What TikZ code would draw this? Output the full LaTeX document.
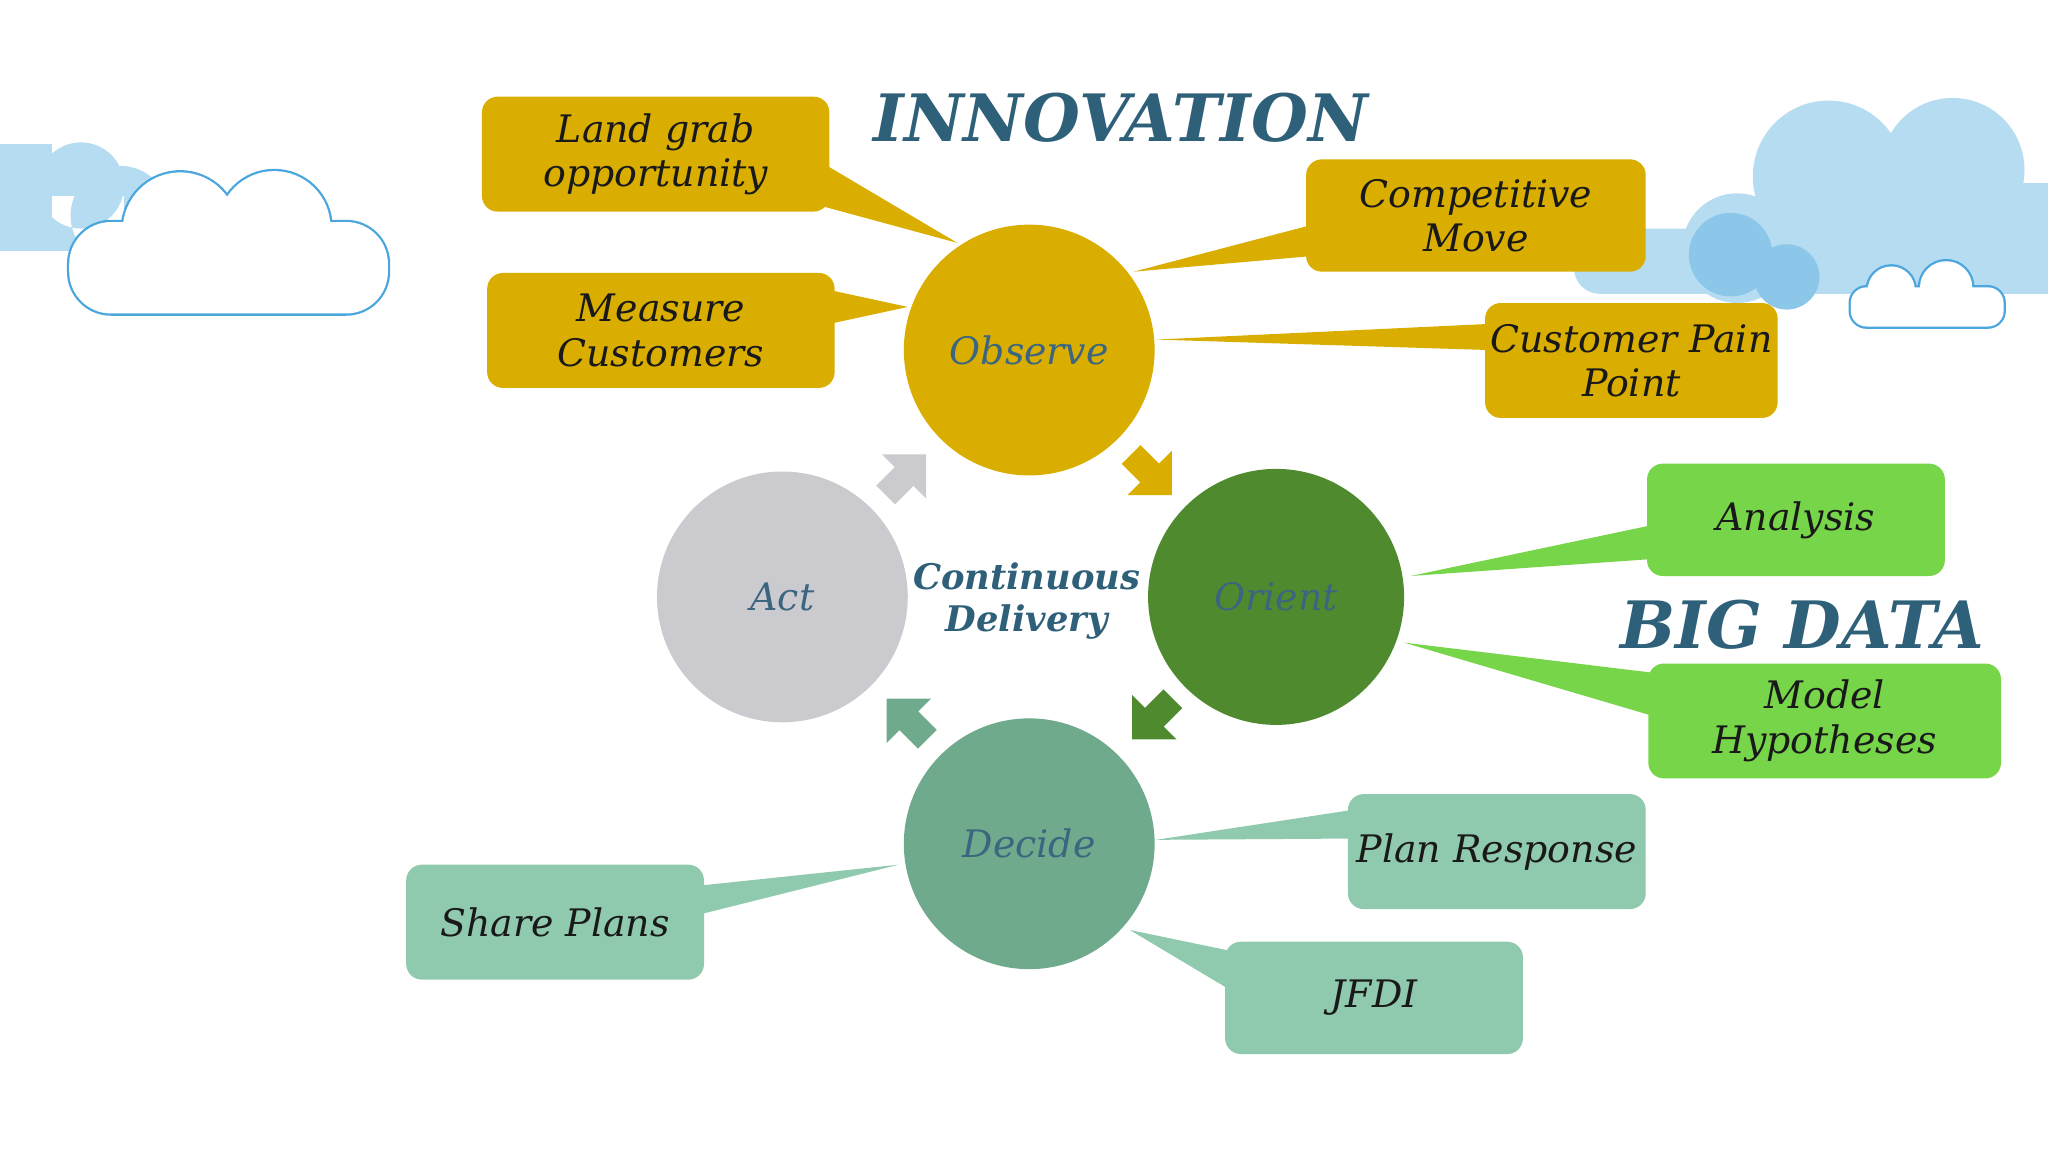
\documentclass[tikz,border=0pt]{standalone}
\usepackage{fontspec}
\setmainfont{DejaVu Serif}
\usetikzlibrary{shapes.arrows}
\definecolor{gold}{HTML}{D9AE00}
\definecolor{dgreen}{HTML}{508A2E}
\definecolor{teal}{HTML}{6FAA8C}
\definecolor{lgray}{HTML}{CBCBCF}
\definecolor{lgreen}{HTML}{77D549}
\definecolor{lteal}{HTML}{8FC9AE}
\definecolor{ttext}{HTML}{2E6079}
\definecolor{ctext}{HTML}{3C6680}
\definecolor{cloudA}{HTML}{B6DCF2}
\definecolor{cloudB}{HTML}{8CC7EA}
\definecolor{cloudL}{HTML}{4BA6DD}
\tikzset{
 circ/.style={circle,minimum size=96pt,inner sep=0,font=\fontsize{14.5}{17}\selectfont\itshape,text=ctext},
 box/.style={rounded corners=6pt,text=black!90,font=\fontsize{14.5}{17}\selectfont\itshape,align=center},
 blk/.style={single arrow,minimum height=22pt,minimum width=24pt,single arrow head extend=3pt,inner sep=2pt},
}
\begin{document}
\begin{tikzpicture}[x=0.5pt,y=-0.5pt]
\useasboundingbox (0,0) rectangle (1568,882);
% clouds
\fill[cloudA] (0,110) rectangle (40,192);
\fill[cloudA] (62,142) circle (33) (92,165) circle (38) (0,150) rectangle (95,192);
\fill[cloudA] (1400,135) circle (58) (1495,130) circle (55) (1330,190) circle (42);
\fill[cloudA,rounded corners=10pt] (1205,175) rectangle (1568,225);
\fill[cloudA] (1400,140) rectangle (1568,225);
\fill[cloudB] (1325,195) circle (32) (1368,212) circle (25);
% outline clouds
\foreach \s in {1,2}{
 \ifnum\s=1 \tikzset{cl/.style={draw=cloudL,line width=1.75pt,fill=none}}\else\tikzset{cl/.style={fill=white,draw=none}}\fi
 \path[cl,rounded corners=16pt] (53,170) rectangle (297,240);
 \path[cl] (138,176) circle (44) (210,174) circle (43);
 \path[cl,rounded corners=6pt] (1417,220) rectangle (1534,250);
 \path[cl] (1448,222) circle (18) (1490,220) circle (20);
}
% wedges
\fill[gold] (630,125)--(630,158)--(733,186)--cycle;
\fill[gold] (635,222)--(635,248)--(695,235)--cycle;
\fill[gold] (1005,172)--(1005,196)--(868,208)--cycle;
\fill[gold] (1140,248)--(1140,268)--(885,260)--cycle;
\fill[lgreen] (1265,402)--(1265,428)--(1080,441)--cycle;
\fill[lgreen] (1265,515)--(1265,548)--(1075,492)--cycle;
\fill[lteal] (1036,620)--(1036,642)--(885,643)--cycle;
\fill[lteal] (942,728)--(942,758)--(865,712)--cycle;
\fill[lteal] (536,678)--(536,700)--(688,662)--cycle;
% boxes
\node[box,fill=gold,minimum width=133pt,minimum height=44pt] (lg) at (502,118) {Land grab\\opportunity};
\node[box,fill=gold,minimum width=133pt,minimum height=44pt] (mc) at (506,253) {Measure\\Customers};
\node[box,fill=gold,minimum width=130pt,minimum height=43pt] (cm) at (1130,165) {Competitive\\Move};
\node[box,fill=gold,minimum width=112pt,minimum height=44pt,inner xsep=1pt] (cp) at (1249,276) {Customer Pain\\Point};
\node[box,fill=lgreen,minimum width=114pt,minimum height=43pt] (an) at (1375,398) {Analysis};
\node[box,fill=lgreen,minimum width=135pt,minimum height=44pt] (mh) at (1397,552) {Model\\Hypotheses};
\node[box,fill=lteal,minimum width=114pt,minimum height=44pt,inner xsep=1pt] (pr) at (1146,652) {Plan Response};
\node[box,fill=lteal,minimum width=114pt,minimum height=43pt] (jf) at (1052,764) {JFDI};
\node[box,fill=lteal,minimum width=114pt,minimum height=44pt] (sp) at (425,706) {Share Plans};
% circles
\node[circ,fill=gold] (ob) at (788,268) {Observe};
\node[circ,fill=dgreen,minimum size=98pt] (or) at (977,457) {Orient};
\node[circ,fill=teal] (de) at (788,646) {Decide};
\node[circ,fill=lgray] (ac) at (599,457) {Act};
\node[font=\fontsize{13.5}{16}\selectfont\bfseries\itshape,text=ttext,align=center] (cd) at (786,460) {Continuous\\Delivery};
% block arrows
\node[blk,fill=gold,rotate=-45] (a1) at (878,360) {};
\node[blk,fill=dgreen,rotate=-135] (a2) at (886,547) {};
\node[blk,fill=teal,rotate=135] (a3) at (698,554) {};
\node[blk,fill=lgray,rotate=45] (a4) at (690,367) {};
% titles
\node[font=\fontsize{25}{28}\selectfont\bfseries\itshape,text=ttext] (inn) at (858,90) {INNOVATION};
\node[font=\fontsize{25}{28}\selectfont\bfseries\itshape,text=ttext] (bd) at (1380,478) {BIG DATA};
\end{tikzpicture}
\end{document}
